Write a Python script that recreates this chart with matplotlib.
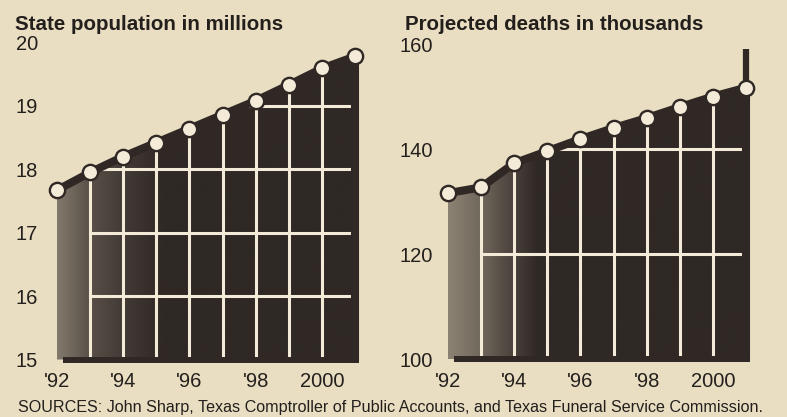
import matplotlib.pyplot as plt
import numpy as np
from matplotlib.colors import to_rgb
from matplotlib.patches import Polygon

plt.rcParams['font.family'] = ['Liberation Sans', 'DejaVu Sans']

years = [1992, 1993, 1994, 1995, 1996, 1997, 1998, 1999, 2000, 2001]
population = [17.67, 17.95, 18.20, 18.42, 18.64, 18.86, 19.08, 19.33, 19.59, 19.78]
deaths = [131.6, 132.7, 137.3, 139.6, 141.9, 144.0, 145.9, 148.0, 150.0, 151.7]
deaths_spike = 159.0

year_ticks = [1992, 1994, 1996, 1998, 2000]
year_labels = ["'92", "'94", "'96", "'98", "2000"]
pop_ticks = [15, 16, 17, 18, 19, 20]
pop_grid = [16, 17, 18, 19]
death_ticks = [100, 120, 140, 160]
death_grid = [120, 140]

bg = '#e9ddc2'
dark = '#2f2825'
cream = '#f3ebd8'

W, H = 787, 417
fig = plt.figure(figsize=(W / 100, H / 100), dpi=100, facecolor=bg)


def px_box(x0, x1, ytop, ybot):
    # pixel box (from top left) -> figure fraction
    return [x0 / W, 1 - ybot / H, (x1 - x0) / W, (ybot - ytop) / H]


def panel(ax, values, ylim, base, grid, ticks, shade_x, shade_t, ypad):
    ax.set_facecolor('none')
    for s in ax.spines.values():
        s.set_visible(False)

    verts = [(years[0], base)] + list(zip(years, values)) + [(years[-1], base)]
    poly = Polygon(verts, closed=True, facecolor='none', edgecolor='none')
    ax.add_patch(poly)

    # stippled-to-black shading, light on the left
    xs = np.linspace(years[0], years[-1], 300)
    t = np.interp(xs, shade_x, shade_t)[:, None]
    cols = np.array(to_rgb(bg)) * (1 - t) + np.array(to_rgb(dark)) * t
    im = ax.imshow(cols[None, :, :], extent=(years[0], years[-1], base, max(values) + 1),
                   aspect='auto', interpolation='bilinear', zorder=1)
    im.set_clip_path(poly)

    for g in grid:
        ln, = ax.plot([years[1], years[-1] - 0.06], [g, g], color=cream, lw=2.2, zorder=2)
        ln.set_clip_path(poly)
    ax.vlines(years[1:-1], base, values[1:-1], color=cream, lw=2.2, zorder=2)

    ax.plot([years[-1], years[-1]], [base, values[-1]], color=dark, lw=5.8,
            solid_capstyle='butt', zorder=3)
    ax.plot([years[0] + 0.18, years[-1] + 0.12], [base, base], color=dark, lw=4.3,
            solid_capstyle='butt', zorder=4)
    ax.plot(years, values, color=dark, lw=5.8, solid_joinstyle='round', zorder=5, clip_on=False)
    ax.plot(years, values, 'o', ms=11, mfc=cream, mec=dark, mew=1.7, zorder=6, clip_on=False)

    ax.set_xlim(1991.5, 2001.5)
    ax.set_ylim(*ylim)
    ax.set_xticks(year_ticks)
    ax.set_xticklabels(year_labels, fontsize=14.5, color='#231f1c')
    ax.set_yticks(ticks)
    ax.set_yticklabels([str(v) for v in ticks], fontsize=14.5, color='#231f1c')
    ax.tick_params(length=0)
    ax.tick_params(axis='x', pad=0)
    ax.tick_params(axis='y', pad=ypad)


# left panel: 1992 -> 57px, 2001 -> 355px ; 15 -> 359.5px, 19 -> 106px
ax1 = fig.add_axes(px_box(40.4, 371.6, 17.1, 372.2))
panel(ax1, population, (14.8, 20.4), 15, pop_grid, pop_ticks,
      [1992, 1993, 1994, 1995.2], [0.55, 0.78, 0.9, 1.0], 1.7)

# right panel: 1992 -> 448px, 2001 -> 746px ; 100 -> 359px, 140 -> 149px
ax2 = fig.add_axes(px_box(431.4, 762.6, 17.8, 372.2))
panel(ax2, deaths, (97.49, 165), 100, death_grid, death_ticks,
      [1992, 1993, 1994, 1994.7], [0.5, 0.65, 0.87, 1.0], -1)
ax2.plot([years[-1], years[-1]], [deaths[-1], deaths_spike], color=dark, lw=4.5,
         solid_capstyle='butt', zorder=3)

fig.text(15 / W, 1 - 30 / H, 'State population in millions', fontsize=14.8,
         fontweight='bold', color='#231f1c', va='baseline')
fig.text(405 / W, 1 - 30 / H, 'Projected deaths in thousands', fontsize=14.8,
         fontweight='bold', color='#231f1c', va='baseline')
fig.text(18 / W, 1 - 412 / H,
         'SOURCES: John Sharp, Texas Comptroller of Public Accounts, and Texas Funeral Service Commission.',
         fontsize=11.6, color='#231f1c', va='baseline')

fig.savefig('out.png', dpi=100, facecolor=bg)
